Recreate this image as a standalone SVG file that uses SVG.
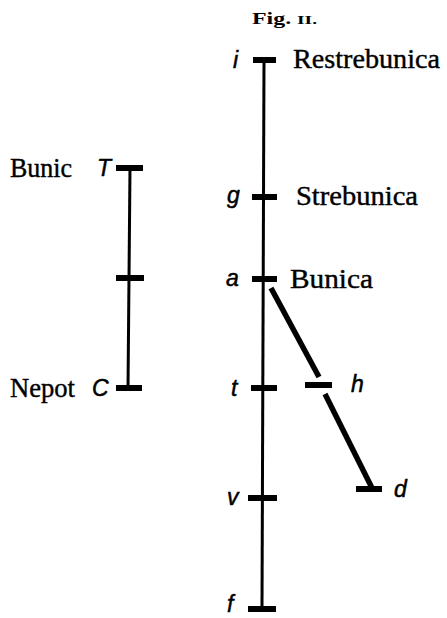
<svg xmlns="http://www.w3.org/2000/svg" width="447" height="618" viewBox="0 0 447 618">
<style>
.bg{fill:#fff}
.ln{stroke:#000;stroke-width:3;fill:none;stroke-linecap:butt}
.dg{stroke:#000;stroke-width:5.5;fill:none}
.tk{stroke:#000;stroke-width:6;fill:none}
.nm{font-family:"Liberation Serif","DejaVu Serif",serif;font-size:27px;fill:#000;stroke:#000;stroke-width:0.4}
.lt{font-family:"Liberation Sans","DejaVu Sans",sans-serif;font-style:italic;font-size:23px;fill:#000;stroke:#000;stroke-width:0.5}
.fg{font-family:"Liberation Serif","DejaVu Serif",serif;font-size:16px;font-weight:bold;fill:#000}
</style>
<rect class="bg" x="0" y="0" width="447" height="618"/>
<text class="fg" x="252" y="24" textLength="65" lengthAdjust="spacingAndGlyphs">Fig. <tspan font-size="13">II.</tspan></text>
<g id="connectors">
<line class="ln" x1="264" y1="60" x2="262" y2="608"/>
<line class="ln" x1="130" y1="168" x2="128" y2="388"/>
<line class="dg" x1="271" y1="288" x2="319" y2="377"/>
<line class="dg" x1="325" y1="394" x2="372" y2="488"/>
</g>
<g id="node-i"><line class="tk" x1="253" y1="60" x2="276" y2="60"/><text class="lt" x="233" y="68">i</text><text class="nm" x="293" y="68" textLength="147" lengthAdjust="spacingAndGlyphs">Restrebunica</text></g>
<g id="node-g"><line class="tk" x1="252" y1="197" x2="277" y2="197"/><text class="lt" x="227" y="203">g</text><text class="nm" x="296" y="205" textLength="122" lengthAdjust="spacingAndGlyphs">Strebunica</text></g>
<g id="node-a"><line class="tk" x1="252" y1="279" x2="277" y2="279"/><text class="lt" x="226" y="286">a</text><text class="nm" x="290" y="288" textLength="83" lengthAdjust="spacingAndGlyphs">Bunica</text></g>
<g id="node-t"><line class="tk" x1="251" y1="388" x2="277" y2="388"/><text class="lt" x="231" y="396">t</text></g>
<g id="node-v"><line class="tk" x1="248" y1="498" x2="277" y2="498"/><text class="lt" x="227" y="505">v</text></g>
<g id="node-f"><line class="tk" x1="248" y1="609" x2="276" y2="609"/><text class="lt" x="227" y="612">f</text></g>
<g id="node-h"><line class="tk" x1="305" y1="385" x2="332" y2="385"/><text class="lt" x="351" y="392">h</text></g>
<g id="node-d"><line class="tk" x1="356" y1="489" x2="382" y2="489"/><text class="lt" x="394" y="497">d</text></g>
<g id="node-T"><line class="tk" x1="116" y1="168" x2="143" y2="168"/><text class="lt" x="97" y="176">T</text><text class="nm" x="10" y="177" textLength="62" lengthAdjust="spacingAndGlyphs">Bunic</text></g>
<g id="node-mid"><line class="tk" x1="116" y1="278" x2="144" y2="278"/></g>
<g id="node-C"><line class="tk" x1="116" y1="388" x2="142" y2="388"/><text class="lt" x="92" y="396">C</text><text class="nm" x="10" y="397" textLength="65" lengthAdjust="spacingAndGlyphs">Nepot</text></g>
</svg>
